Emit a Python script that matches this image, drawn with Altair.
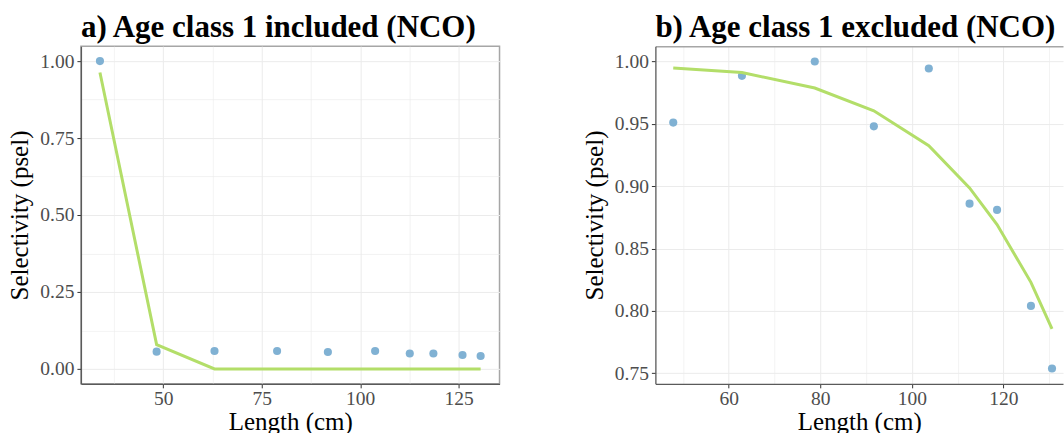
import altair as alt
import pandas as pd

# ---- data ----
lengths_a = [33.9, 48.3, 63.0, 78.9, 91.8, 103.8, 112.6, 118.6, 126.0, 130.6]
observed_a = [1.000, 0.056, 0.058, 0.058, 0.055, 0.058, 0.050, 0.050, 0.045, 0.042]
fitted_a = [0.963, 0.079, 0.000, 0.000, 0.000, 0.000, 0.000, 0.000, 0.000, 0.000]

lengths_b = [47.9, 62.9, 78.8, 91.7, 103.7, 112.6, 118.6, 126.0, 130.6]
observed_b = [0.951, 0.9885, 1.000, 0.948, 0.9944, 0.886, 0.881, 0.804, 0.7538]
fitted_b = [0.9947, 0.9912, 0.9787, 0.9605, 0.9325, 0.8986, 0.8692, 0.8229, 0.7856]

# tick values
xmajor_a = [50, 75, 100, 125]
xminor_a = [37.5, 62.5, 87.5, 112.5]
ymajor_a = [0.0, 0.25, 0.5, 0.75, 1.0]
yminor_a = [0.125, 0.375, 0.625, 0.875]

xmajor_b = [60, 80, 100, 120]
xminor_b = [50, 70, 90, 110, 130]
ymajor_b = [0.75, 0.80, 0.85, 0.90, 0.95, 1.00]
yminor_b = [0.775, 0.825, 0.875, 0.925, 0.975]

FONT = "Liberation Serif"
PT_COLOR = "#80B1D3"
LINE_COLOR = "#B3DE69"
GRID = "#EBEBEB"
BORDER_LIGHT = "#A6A6A6"
BORDER_DARK = "#5A5A5A"


def make_axis(major, minor, title, fmt, title_pad, orient, label_pad):
    arr = "[" + ",".join(repr(float(v)) for v in major) + "]"
    test = f"indexof({arr}, datum.value) >= 0"
    return alt.Axis(
        orient=orient,
        values=sorted(major + minor),
        title=title,
        format=fmt,
        labelExpr=f"{test} ? datum.label : ''",
        tickOpacity={"condition": {"test": test, "value": 1}, "value": 0},
        gridWidth={"condition": {"test": test, "value": 1.0}, "value": 0.6},
        gridColor=GRID,
        grid=True,
        tickSize=4,
        tickColor="#333333",
        labelPadding=label_pad,
        labelFont=FONT,
        labelFontSize=19.5,
        labelColor="#4D4D4D",
        titleFont=FONT,
        titleFontSize=25,
        titleFontWeight="normal",
        titleColor="black",
        titlePadding=title_pad,
        domain=True,
        domainColor=BORDER_DARK,
        domainWidth=1.3,
    )


def top_border_axis():
    return alt.Axis(
        orient="top",
        labels=False,
        ticks=False,
        grid=False,
        title=None,
        domain=True,
        domainColor=BORDER_LIGHT,
        domainWidth=1.5,
    )


def panel(lengths, observed, fitted, xdom, ydom, xaxis, yaxis, title, width, open_right):
    df = pd.DataFrame({"Length": lengths, "Observed": observed, "Fitted": fitted})
    base = alt.Chart(df)
    x = alt.X("Length:Q", scale=alt.Scale(domain=xdom, nice=False, zero=False), axis=xaxis)
    pts = base.mark_circle(size=66, opacity=1, color=PT_COLOR).encode(
        x=x,
        y=alt.Y("Observed:Q", scale=alt.Scale(domain=ydom, nice=False, zero=False), axis=yaxis),
    )
    if open_right:
        line_x = alt.X("Length:Q", axis=top_border_axis())
    else:
        line_x = alt.X("Length:Q")
    line = base.mark_line(color=LINE_COLOR, strokeWidth=3).encode(
        x=line_x,
        y=alt.Y("Fitted:Q"),
    )
    props = dict(
        width=width,
        height=338,
        title=alt.TitleParams(
            title,
            anchor="start",
            frame="group",
            font=FONT,
            fontSize=31,
            fontWeight="bold",
            color="black",
            offset=2,
        ),
    )
    layered = alt.layer(pts, line)
    if open_right:
        props["view"] = alt.ViewBackground(stroke="transparent")
        layered = layered.resolve_axis(x="independent")
    return layered.properties(**props)


pa = panel(
    lengths_a, observed_a, fitted_a,
    [29.07, 135.4], [-0.0485, 1.0485],
    make_axis(xmajor_a, xminor_a, "Length (cm)", "d", 1, "bottom", 2),
    make_axis(ymajor_a, yminor_a, "Selectivity (psel)", ".2f", 7, "left", 3),
    "a) Age class 1 included (NCO)", 419, False,
)
pb = panel(
    lengths_b, observed_b, fitted_b,
    [44.0, 133.0], [0.7415, 1.0123],
    make_axis(xmajor_b, xminor_b, "Length (cm)", "d", 1, "bottom", 2),
    make_axis(ymajor_b, yminor_b, "Selectivity (psel)", ".2f", 7, "left", 3),
    "b) Age class 1 excluded (NCO)", 408, True,
)

chart = alt.hconcat(pa, pb, spacing=156, bounds="flush").properties(
    padding={"left": 7, "top": 11, "right": 0, "bottom": 0},
    background="white",
).configure_view(stroke=BORDER_LIGHT, strokeWidth=1.5)

chart.save("out.html", embed_options={"renderer": "svg", "actions": False})
